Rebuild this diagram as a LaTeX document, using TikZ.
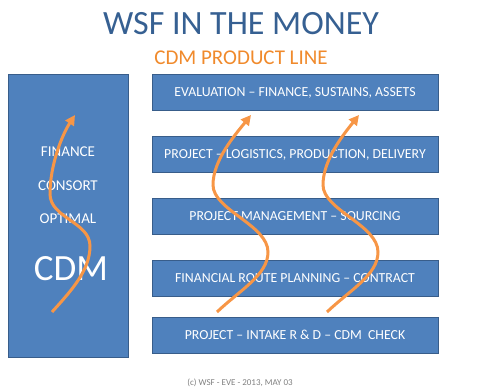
\documentclass[tikz,border=0pt]{standalone}
\usepackage{fontspec}
\setmainfont{Carlito}
\usetikzlibrary{arrows.meta}
\definecolor{boxblue}{HTML}{4F81BD}
\definecolor{boxedge}{HTML}{385D8A}
\definecolor{titleblue}{HTML}{366092}
\definecolor{arroworange}{HTML}{F79646}
\definecolor{suborange}{HTML}{F08A2C}
\definecolor{footgray}{HTML}{808080}
\tikzset{
  stagebox/.style={draw=boxedge, line width=0.8pt, fill=boxblue, minimum width=286pt, minimum height=36pt, inner sep=0pt},
  stagetext/.style={text=white, font=\fontsize{13.8}{15}\selectfont, anchor=base, inner sep=0pt},
  sidebox/.style={draw=boxedge, line width=0.8pt, fill=boxblue, minimum width=120pt, minimum height=283pt, inner sep=0pt},
  sidetext/.style={text=white, font=\fontsize{15}{17}\selectfont, anchor=base, inner sep=0pt},
  flow/.style={draw=arroworange, line width=3pt, -{Triangle[length=10pt,width=10pt]}}
}
\begin{document}
\begin{tikzpicture}[x=1pt,y=-1pt]
\useasboundingbox (0,0) rectangle (479,387);
% titles
\node[anchor=base, inner sep=0pt, text=titleblue, font=\fontsize{34}{38}\selectfont] (title) at (241,35) {WSF IN THE MONEY};
\node[anchor=base, inner sep=0pt, text=suborange, font=\fontsize{21}{24}\selectfont] (sub) at (241,65) {CDM PRODUCT LINE};
% side box
\node[sidebox] (side) at (68,215.5) {};
\node[sidetext] (fin) at (68,156.5) {FINANCE};
\node[sidetext] (con) at (68,190.5) {CONSORT};
\node[sidetext] (opt) at (68,224) {OPTIMAL};
\node[anchor=base, inner sep=0pt, text=white, font=\fontsize{37}{40}\selectfont] (cdm) at (71,280) {CDM};
% stage boxes
\node[stagebox] (b1) at (295,92.5) {};
\node[stagebox] (b2) at (295,154.5) {};
\node[stagebox] (b3) at (295,216) {};
\node[stagebox] (b4) at (295,278) {};
\node[stagebox] (b5) at (295,335) {};
\node[stagetext] (t1) at (295,97) {EVALUATION – FINANCE, SUSTAINS, ASSETS};
\node[stagetext] (t2) at (295,159) {PROJECT – LOGISTICS, PRODUCTION, DELIVERY};
\node[stagetext] (t3) at (295,220.5) {PROJECT MANAGEMENT – SOURCING};
\node[stagetext] (t4) at (295,282.5) {FINANCIAL ROUTE PLANNING – CONTRACT};
\node[stagetext] (t5) at (295,339.5) {PROJECT – INTAKE R \& D – CDM\ \ CHECK};
% footer
\node[anchor=base, inner sep=0pt, text=footgray, font=\fontsize{9}{10}\selectfont] (foot) at (240,385) {(c) WSF - EVE - 2013, MAY 03};
% wavy arrows
\coordinate (a1s) at (52,312);
\coordinate (a1e) at (75,115);
\coordinate (a2s) at (217,312);
\coordinate (a2e) at (251,115);
\coordinate (a3s) at (327,312);
\coordinate (a3e) at (359,115);
\draw[flow] (a1s) .. controls (72,290) and (90,270) .. (90,246) .. controls (90,222) and (50,218) .. (50,194) .. controls (50,165) and (62,135) .. (a1e);
\draw[flow] (a2s) .. controls (240,290) and (268,275) .. (268,252) .. controls (268,225) and (213,210) .. (213,185) .. controls (213,160) and (235,135) .. (a2e);
\draw[flow] (a3s) .. controls (350,290) and (378,275) .. (378,252) .. controls (378,225) and (323,210) .. (323,185) .. controls (323,160) and (343,135) .. (a3e);
\end{tikzpicture}
\end{document}
